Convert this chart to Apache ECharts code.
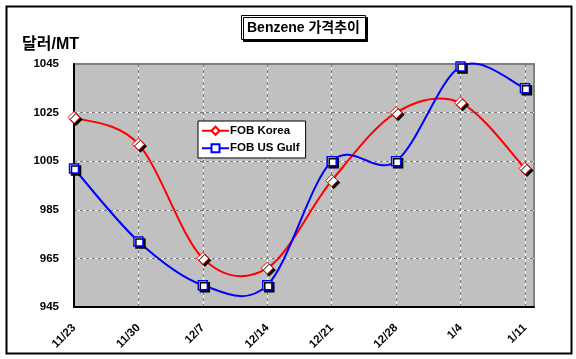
<!DOCTYPE html>
<html>
<head>
<meta charset="utf-8">
<script src="https://cdn.jsdelivr.net/npm/echarts@6/dist/echarts.min.js"></script>
<style>
html,body{margin:0;padding:0;background:#fff;}
#chart{width:576px;height:359px;}
</style>
</head>
<body>
<div id="chart"></div>
<script>
var categories = ['11/23','11/30','12/7','12/14','12/21','12/28','1/4','1/11'];
var fobKorea = [1023, 1012, 965, 961, 997, 1025, 1029, 1002];
var fobUSGulf = [1002, 972, 954, 954, 1005, 1005, 1044, 1035];
var yTicks = [945, 965, 985, 1005, 1025, 1045];
var titleText = 'Benzene 가격추이';
var unitText = '달러/MT';
var seriesNames = ['FOB Korea', 'FOB US Gulf'];
var seriesColors = ['#ff0000', '#0000ff'];

var FONT = '"Liberation Sans", Arial, "Noto Sans CJK KR", sans-serif';
var chart = echarts.init(document.getElementById('chart'), null, {renderer: 'canvas'});

function pairs(vals){ return vals.map(function(v,i){ return [i, v]; }); }

// Excel-style smoothed curve (Catmull-Rom Bezier), positions via api.coord
function curveSeries(vals, color){
  return {
    type: 'custom', silent: true, z: 2,
    data: pairs(vals),
    renderItem: function(params, api){
      var i = params.dataIndex, n = vals.length;
      if (i >= n - 1) return null;
      var p = function(k){ k = Math.max(0, Math.min(n - 1, k)); return api.coord([k, vals[k]]); };
      var p0 = p(i - 1), p1 = p(i), p2 = p(i + 1), p3 = p(i + 2);
      return {
        type: 'bezierCurve',
        shape: {
          x1: p1[0], y1: p1[1], x2: p2[0], y2: p2[1],
          cpx1: p1[0] + (p2[0] - p0[0]) / 6, cpy1: p1[1] + (p2[1] - p0[1]) / 6,
          cpx2: p2[0] - (p3[0] - p1[0]) / 6, cpy2: p2[1] - (p3[1] - p1[1]) / 6
        },
        style: {stroke: color, lineWidth: 2, fill: null}
      };
    }
  };
}

var xMax = categories.length - 1 + 0.14;
function xAxisCfg(primary){
  return {
    type: 'value', min: 0, max: xMax, interval: 1,
    axisLine: {show: primary, onZero: false, lineStyle: {color: '#000', width: 2}},
    axisTick: {show: false},
    axisLabel: {
      show: primary, rotate: 45, margin: 19, color: '#000',
      fontFamily: FONT, fontSize: 11.5, fontWeight: 'bold',
      formatter: function(v){ return Number.isInteger(v) ? categories[v] : ''; }
    },
    splitLine: {show: true, showMinLine: false, showMaxLine: false,
      lineStyle: primary ? {color: '#ffffff', width: 1, type: 'solid'} : {color: '#777777', width: 1, type: [3,3]}}
  };
}
function yAxisCfg(primary){
  return {
    type: 'value', min: yTicks[0], max: yTicks[yTicks.length-1],
    axisLine: {show: primary, lineStyle: {color: '#000', width: 2}},
    axisTick: {show: false, customValues: yTicks},
    axisLabel: {
      show: primary, customValues: yTicks, margin: 15, color: '#000',
      fontFamily: FONT, fontSize: 11.5, fontWeight: 'bold',
      formatter: function(v){ return String(v); }
    },
    splitLine: {show: true, showMinLine: false, showMaxLine: false,
      lineStyle: primary ? {color: '#ffffff', width: 1, type: 'solid'} : {color: '#777777', width: 1, type: [3,3]}}
  };
}

var option = {
  backgroundColor: '#ffffff',
  animation: false,
  title: [{
    text: titleText, left: 241, top: 15,
    padding: [6, 6, 5, 6],
    backgroundColor: '#ffffff', borderColor: '#000', borderWidth: 1,
    shadowColor: '#000', shadowOffsetX: 2, shadowOffsetY: 2, shadowBlur: 0,
    textStyle: {fontFamily: FONT, fontSize: 14, fontWeight: 'bold', color: '#000'}
  }, {
    text: unitText, left: 22, top: 37, padding: 0,
    textStyle: {fontFamily: FONT, fontSize: 16, fontWeight: 'bold', color: '#000'}
  }],
  legend: {
    orient: 'vertical', left: 198, top: 121,
    data: seriesNames.map(function(nm, k){
      return {name: nm, lineStyle: {color: seriesColors[k], width: 2, opacity: 1}};
    }),
    backgroundColor: '#ffffff', borderColor: '#000', borderWidth: 1,
    padding: [4, 6, 4, 3],
    itemWidth: 27, itemHeight: 10, itemGap: 6,
    textStyle: {fontFamily: FONT, fontSize: 11.5, fontWeight: 'bold', color: '#000', padding: [0,0,0,-4]}
  },
  grid: {
    left: 74, top: 64, right: 42, bottom: 52,
    show: true, backgroundColor: '#C0C0C0', borderColor: '#808080', borderWidth: 2
  },
  xAxis: [xAxisCfg(true), xAxisCfg(false)],
  yAxis: [yAxisCfg(true), yAxisCfg(false)],
  series: [
    curveSeries(fobKorea, seriesColors[0]),
    curveSeries(fobUSGulf, seriesColors[1]),
  {
    name: seriesNames[0], type: 'line',
    data: pairs(fobKorea),
    symbol: 'diamond', symbolSize: [12, 12],
    lineStyle: {color: seriesColors[0], width: 2, opacity: 0},
    itemStyle: {color: '#ffffff', borderColor: seriesColors[0], borderWidth: 1,
      shadowColor: '#000', shadowOffsetX: 2, shadowOffsetY: 2, shadowBlur: 0},
    z: 3
  }, {
    name: seriesNames[1], type: 'line',
    data: pairs(fobUSGulf),
    symbol: 'rect', symbolSize: [9, 9],
    lineStyle: {color: seriesColors[1], width: 2, opacity: 0},
    itemStyle: {color: '#ffffff', borderColor: seriesColors[1], borderWidth: 1.5,
      shadowColor: '#000', shadowOffsetX: 2, shadowOffsetY: 2, shadowBlur: 0},
    z: 3
  }],
  graphic: [{
    type: 'rect', left: 4, top: 4, silent: true,
    shape: {width: 565, height: 347},
    style: {fill: null, stroke: '#000', lineWidth: 2}
  }]
};
chart.setOption(option);
</script>
</body>
</html>
